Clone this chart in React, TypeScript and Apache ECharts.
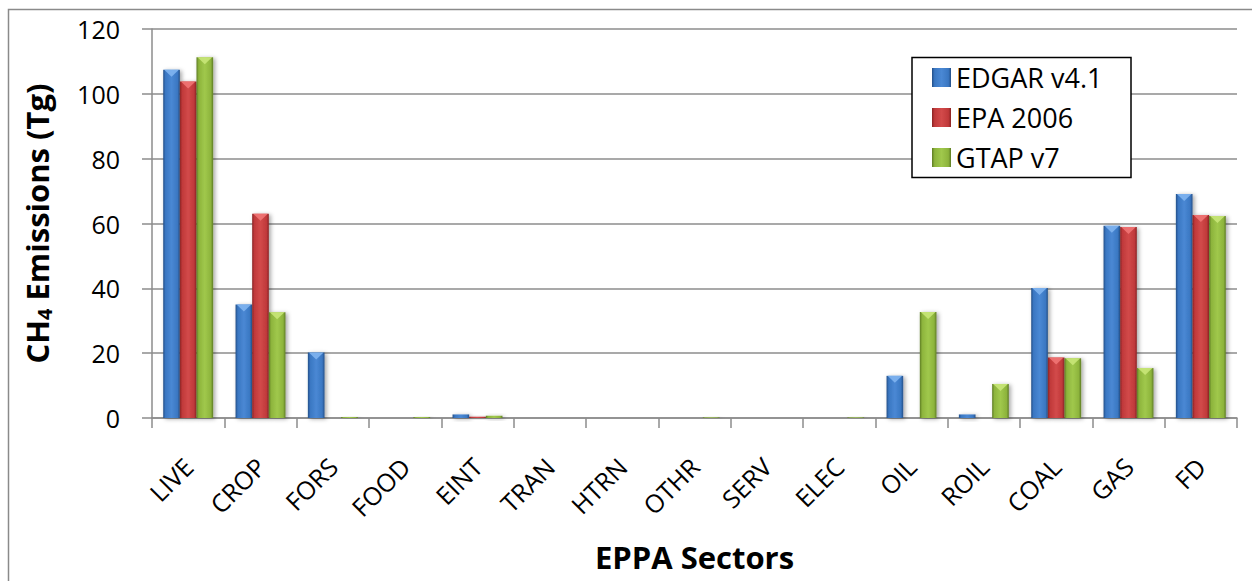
import React, { useEffect, useRef } from "react";
import * as echarts from "echarts";

const categories = ["LIVE", "CROP", "FORS", "FOOD", "EINT", "TRAN", "HTRN", "OTHR", "SERV", "ELEC", "OIL", "ROIL", "COAL", "GAS", "FD"];
const edgar = [107.4, 35.0, 20.2, 0, 1.1, 0, 0, 0, 0, 0, 13.0, 1.1, 40.1, 59.3, 69.1];
const epa = [103.8, 63.0, 0, 0, 0.4, 0, 0, 0, 0, 0, 0, 0, 18.7, 58.9, 62.6];
const gtap = [111.3, 32.6, 0.3, 0.3, 0.7, 0, 0, 0.2, 0, 0.2, 32.7, 10.5, 18.4, 15.4, 62.3];
const seriesNames = ["EDGAR v4.1", "EPA 2006", "GTAP v7"];
const yTicks = { min: 0, max: 120, interval: 20 };

const FONT = "'Open Sans', Lato, sans-serif";
const GROUP_FRACTION = 0.69;

function grad(dark: string, mid: string, light: string) {
  return new echarts.graphic.LinearGradient(0, 0, 1, 0, [
    { offset: 0, color: dark },
    { offset: 0.14, color: mid },
    { offset: 0.5, color: light },
    { offset: 0.86, color: mid },
    { offset: 1, color: dark },
  ]);
}

const palettes = [
  { g: ["#234f88", "#3a77c2", "#4a88d4"], tip: "#7fb4f0" },
  { g: ["#8a2323", "#c0393a", "#d24a4a"], tip: "#f07474" },
  { g: ["#5e7c24", "#8db43c", "#a0c84c"], tip: "#c8e678" },
];

export default function App() {
  const ref = useRef<HTMLDivElement>(null);
  useEffect(() => {
    document.body.style.margin = "0";
    const chart = echarts.init(ref.current!, null, { renderer: "svg" });
    const data = [edgar, epa, gtap];
    const bars = seriesNames.map((name, i) => ({
      name,
      type: "bar",
      data: data[i],
      barGap: "0%",
      barCategoryGap: "31%",
      itemStyle: {
        color: grad(palettes[i].g[0], palettes[i].g[1], palettes[i].g[2]),
        shadowBlur: 4,
        shadowColor: "rgba(0,0,0,0.35)",
        shadowOffsetX: 2,
        shadowOffsetY: 1,
      },
    }));
    const tips = seriesNames.map((name, i) => ({
      name: name + " tip",
      type: "custom",
      z: 3,
      silent: true,
      data: data[i].map((v, k) => [k, v]),
      renderItem: (params: any, api: any) => {
        const idx = api.value(0);
        const val = api.value(1);
        const top = api.coord([idx, val]);
        const base = api.coord([idx, 0]);
        const catW = api.size([1, 0])[0];
        const bw = (catW * GROUP_FRACTION) / 3;
        const left = top[0] - 1.5 * bw + i * bw;
        const h = base[1] - top[1];
        if (h < 10) return null;
        const th = Math.min(7, h * 0.3);
        return {
          type: "polygon",
          shape: { points: [[left + 1, top[1]], [left + bw - 1, top[1]], [left + bw / 2, top[1] + th]] },
          style: { fill: palettes[i].tip, opacity: 0.9 },
        };
      },
    }));
    chart.setOption({
      animation: false,
      backgroundColor: "#ffffff",
      textStyle: { fontFamily: FONT },
      graphic: [
        {
          type: "rect",
          z: -10,
          silent: true,
          shape: { x: 8.5, y: 9.5, width: 1400, height: 700 },
          style: { fill: "none", stroke: "#8a8a8a", lineWidth: 1.5 },
        },
        {
          type: "rect",
          z: 5,
          silent: true,
          shape: { x: 912, y: 57.5, width: 219, height: 120 },
          style: { fill: "#ffffff", stroke: "#000000", lineWidth: 1.5 },
        },
      ],
      grid: { left: 152, right: 15, top: 29, bottom: 163, containLabel: false, outerBoundsMode: "none" },
      legend: {
        orient: "vertical",
        left: 932,
        top: 64,
        z: 10,
        itemWidth: 19,
        itemHeight: 19,
        itemGap: 13,
        padding: 0,
        borderWidth: 0,
        icon: "rect",
        textStyle: { fontFamily: FONT, fontSize: 27, color: "#000" },
        data: seriesNames,
      },
      xAxis: {
        type: "category",
        data: categories,
        axisLine: { lineStyle: { color: "#8c8c8c", width: 1.5 } },
        axisTick: { show: true, length: 10, lineStyle: { color: "#8c8c8c", width: 1.5 } },
        axisLabel: { rotate: 45, margin: 44, fontSize: 25, color: "#000", fontFamily: FONT, interval: 0 },
        name: "EPPA Sectors",
        nameLocation: "middle",
        nameGap: 123,
        nameTextStyle: { fontSize: 31, fontWeight: "bold", color: "#000", fontFamily: FONT },
      },
      yAxis: {
        type: "value",
        min: yTicks.min,
        max: yTicks.max,
        interval: yTicks.interval,
        axisLine: { show: true, lineStyle: { color: "#8c8c8c", width: 1.5 } },
        axisTick: { show: true, length: 10, inside: false, lineStyle: { color: "#8c8c8c", width: 1.5 } },
        splitLine: { lineStyle: { color: "#8c8c8c", width: 1.5 } },
        axisLabel: { fontSize: 25, color: "#000", margin: 32, fontFamily: FONT },
        name: "{a|CH}{b|4}{a| Emissions (Tg)}",
        nameLocation: "middle",
        nameRotate: 90,
        nameGap: 98,
        nameTextStyle: {
          rich: {
            a: { fontSize: 31, fontWeight: "bold", color: "#000", fontFamily: FONT },
            b: { fontSize: 20, fontWeight: "bold", color: "#000", fontFamily: FONT, verticalAlign: "bottom", padding: [15, 0, 0, 0] },
          },
        },
      },
      series: [...bars, ...tips],
    });
    return () => chart.dispose();
  }, []);
  return <div ref={ref} style={{ width: 1252, height: 581 }} />;
}
